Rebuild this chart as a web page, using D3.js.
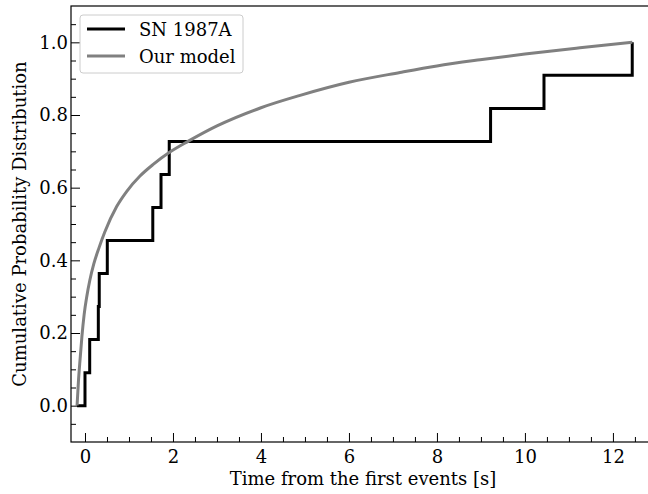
<!DOCTYPE html>
<html>
<head>
<meta charset="utf-8">
<script src="https://cdn.jsdelivr.net/npm/d3@7/dist/d3.min.js"></script>
<style>
  html, body { margin: 0; padding: 0; background: #fff; }
  svg { display: block; font-family: "DejaVu Serif", serif; }
</style>
</head>
<body>
<svg id="chart" width="648" height="494"></svg>
<script>
// ---- Data ----
// SN 1987A event times (s) -> cumulative step values (k/11)
const snStart = -0.18;
const snTimes = [0, 0.107, 0.303, 0.324, 0.507, 1.541, 1.728, 1.915, 9.219, 10.433, 12.439];
// Model cumulative curve
const modelX = [-0.18, -0.15, -0.11, -0.07, -0.02, 0.04, 0.11, 0.20, 0.32, 0.45, 0.72, 0.95, 1.25, 1.55, 1.93, 2.35, 3.0, 4.0, 4.89, 6.0, 7.16, 8.0, 8.98, 10.0, 11.25, 12.44];
const modelY = [0, 0.065, 0.13, 0.19, 0.25, 0.30, 0.345, 0.39, 0.435, 0.478, 0.548, 0.59, 0.632, 0.664, 0.698, 0.728, 0.77, 0.82, 0.854, 0.89, 0.917, 0.935, 0.952, 0.968, 0.985, 1.0];
const xTicks = [0, 2, 4, 6, 8, 10, 12];
const yTicks = [0.0, 0.2, 0.4, 0.6, 0.8, 1.0];
const legendLabels = ["SN 1987A", "Our model"];
const xLabel = "Time from the first events [s]";
const yLabel = "Cumulative Probability Distribution";

// ---- Layout ----
const svg = d3.select("#chart");
const L = 71, R = 649, T = 6, B = 442;
const FS = "18px";
const x = d3.scaleLinear().domain([-0.318, 12.82]).range([L, R]);
const y = d3.scaleLinear().domain([-0.1, 1.1]).range([B, T]);

const N = snTimes.length;
const snData = [[snStart, 0]].concat(snTimes.map((t, i) => [t, (i + 1) / N]));
const modelData = modelX.map((v, i) => [v, modelY[i]]);

svg.append("clipPath").attr("id", "clip")
  .append("rect").attr("x", L).attr("y", T).attr("width", R - L).attr("height", B - T);

const g = svg.append("g").attr("clip-path", "url(#clip)");

g.append("path")
  .datum(snData)
  .attr("fill", "none")
  .attr("stroke", "#000")
  .attr("stroke-width", 3)
  .attr("stroke-linejoin", "miter")
  .attr("d", d3.line().x(d => x(d[0])).y(d => y(d[1])).curve(d3.curveStepAfter));

g.append("path")
  .datum(modelData)
  .attr("fill", "none")
  .attr("stroke", "#808080")
  .attr("stroke-width", 3)
  .attr("d", d3.line().x(d => x(d[0])).y(d => y(d[1])).curve(d3.curveMonotoneX));

// ---- Axes ----
const xMinor = d3.range(0, 12.81, 0.5).filter(v => xTicks.indexOf(v) < 0);
const yMinor = d3.range(-0.05, 1.06, 0.05).map(v => +v.toFixed(2)).filter(v => !yTicks.some(t => Math.abs(t - v) < 1e-6));

const xAxis = d3.axisBottom(x).tickValues(xTicks).tickSizeInner(-9).tickSizeOuter(0).tickPadding(8)
  .tickFormat(d3.format("d"));
const xAxisMinor = d3.axisBottom(x).tickValues(xMinor).tickSizeInner(-5).tickSizeOuter(0).tickFormat("");
const yAxis = d3.axisLeft(y).tickValues(yTicks).tickSizeInner(-9).tickSizeOuter(0).tickPadding(3)
  .tickFormat(d3.format(".1f"));
const yAxisMinor = d3.axisLeft(y).tickValues(yMinor).tickSizeInner(-5).tickSizeOuter(0).tickFormat("");

function style(sel) {
  sel.select(".domain").remove();
  sel.selectAll(".tick line").attr("stroke", "#000").attr("stroke-width", 1);
  sel.selectAll(".tick text").attr("fill", "#000").style("font-family", "DejaVu Serif").style("font-size", FS);
}
svg.append("g").attr("transform", `translate(0,${B})`).call(xAxisMinor).call(style);
svg.append("g").attr("transform", `translate(0,${B})`).call(xAxis).call(style);
svg.append("g").attr("transform", `translate(${L},0)`).call(yAxisMinor).call(style);
svg.append("g").attr("transform", `translate(${L},0)`).call(yAxis).call(style);

// frame
svg.append("rect").attr("x", L).attr("y", T).attr("width", R - L).attr("height", B - T)
  .attr("fill", "none").attr("stroke", "#000").attr("stroke-width", 1.2);

// labels
svg.append("text").attr("x", 363).attr("y", 485)
  .attr("text-anchor", "middle").style("font-size", FS).attr("fill", "#000").text(xLabel);
svg.append("text").attr("transform", `translate(26,224) rotate(-90)`)
  .attr("text-anchor", "middle").style("font-size", FS).attr("fill", "#000").text(yLabel);

// legend
const lg = svg.append("g");
lg.append("rect").attr("x", 80).attr("y", 15).attr("width", 163).attr("height", 58).attr("rx", 3)
  .attr("fill", "#fff").attr("fill-opacity", 0.8).attr("stroke", "#ccc").attr("stroke-width", 1);
const legendColors = ["#000", "#808080"];
legendLabels.forEach((lab, i) => {
  const yy = 29 + i * 27;
  lg.append("line").attr("x1", 87).attr("x2", 125).attr("y1", yy).attr("y2", yy)
    .attr("stroke", legendColors[i]).attr("stroke-width", 3);
  lg.append("text").attr("x", 139).attr("y", yy + 6.5).style("font-size", FS).attr("fill", "#000").text(lab);
});
</script>
</body>
</html>
